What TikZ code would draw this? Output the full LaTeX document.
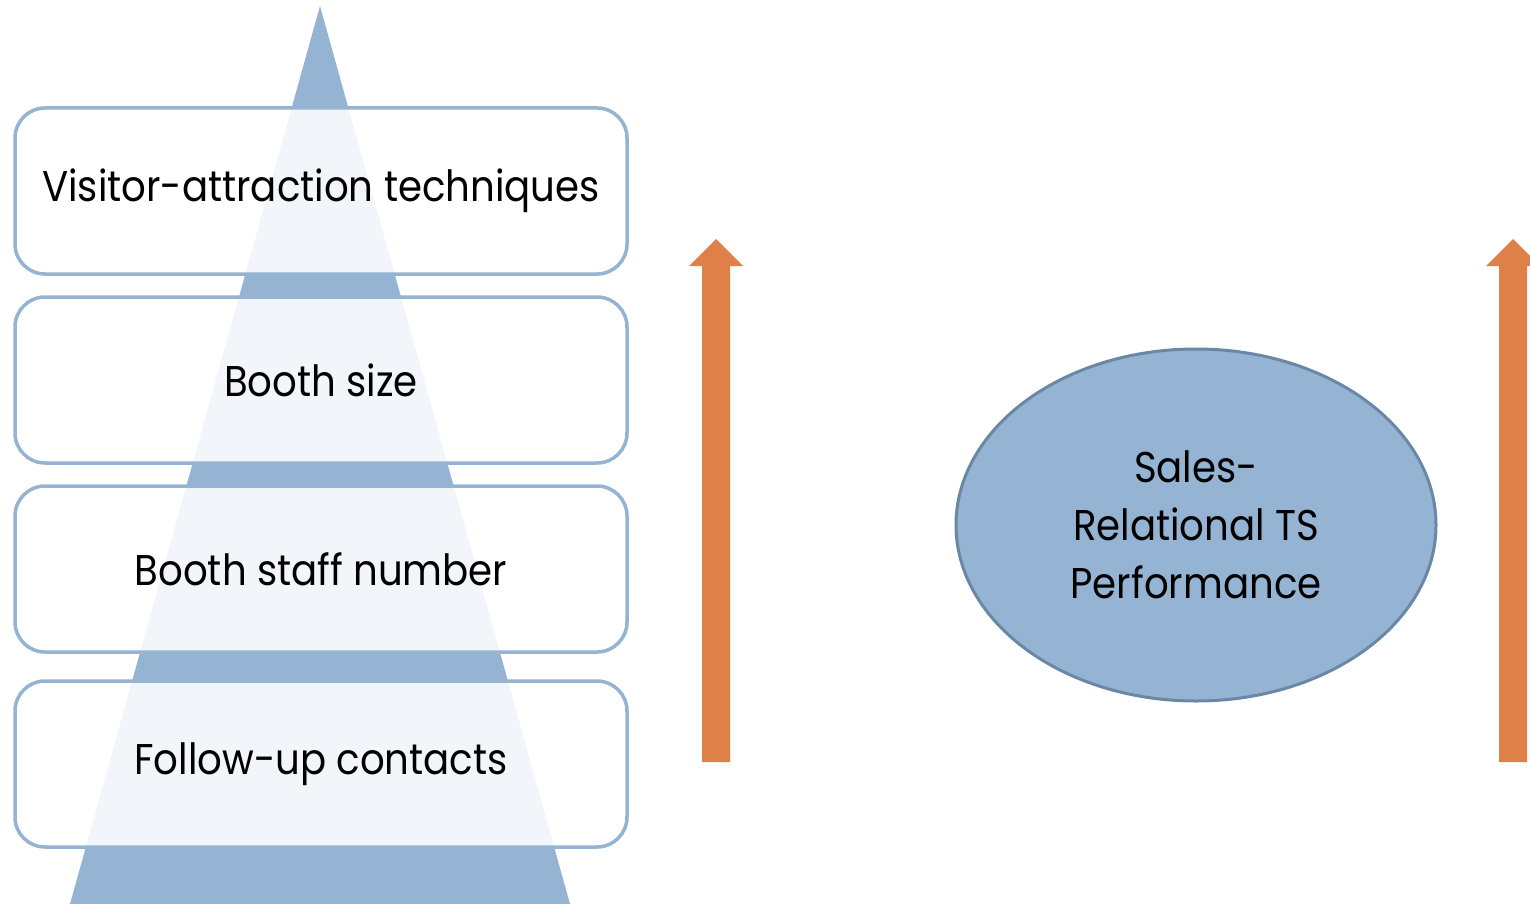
\documentclass[tikz,border=0pt]{standalone}
\usepackage{fontspec}
\setmainfont[FakeStretch=0.9]{Poppins}
\usetikzlibrary{shapes.geometric}
\definecolor{pyr}{HTML}{95B3D2}
\definecolor{orangearr}{HTML}{DF8049}
\definecolor{ellline}{HTML}{6A88A6}
\tikzset{
  layerbox/.style={draw=pyr, line width=3.5pt, rounded corners=30pt, fill=white, fill opacity=0.88, text opacity=1,
    minimum width=612pt, minimum height=166pt, inner sep=0pt, font=\fontsize{43}{50}\selectfont},
  blockarrow/.style={fill=orangearr},
  perfell/.style={ellipse, draw=ellline, fill=pyr, line width=3pt, minimum width=480pt, minimum height=352pt,
    inner sep=0pt, align=center, font=\fontsize{43}{58}\selectfont}
}
\begin{document}
\begin{tikzpicture}[x=1pt,y=-1pt]
\useasboundingbox (0,0) rectangle (1530,904);
% pyramid
\fill[pyr] (320,6) -- (570,904) -- (70,904) -- cycle;
% layers
\node[layerbox] (b1) at (321,191) {Visitor-attraction techniques};
\node[layerbox] (b2) at (321,380) {Booth size};
\node[layerbox] (b3) at (321,569) {Booth staff number};
\node[layerbox] (b4) at (321,764) {Follow-up contacts};
% arrows
\fill[blockarrow] (716,239) -- (743,266) -- (730,266) -- (730,762) -- (702,762) -- (702,266) -- (689,266) -- cycle;
\fill[blockarrow] (1513,239) -- (1540,266) -- (1527,266) -- (1527,762) -- (1499,762) -- (1499,266) -- (1486,266) -- cycle;
% ellipse
\node[perfell] (perf) at (1196,525) {Sales-\\Relational TS\\Performance};
\end{tikzpicture}
\end{document}
